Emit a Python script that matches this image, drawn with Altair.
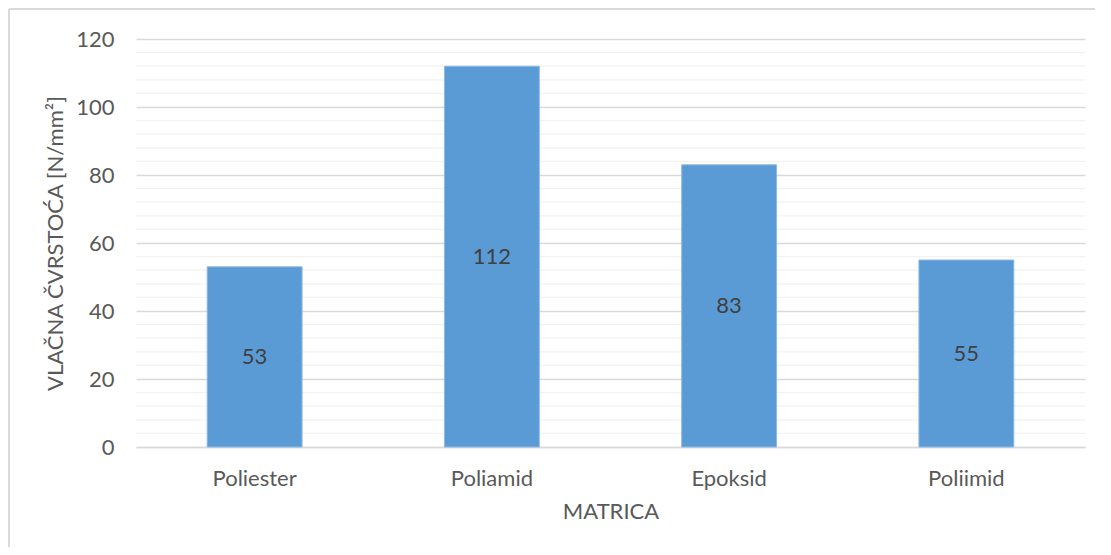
import altair as alt
import pandas as pd

categories = ["Poliester", "Poliamid", "Epoksid", "Poliimid"]
values = [53, 112, 83, 55]
major_ticks = [0, 20, 40, 60, 80, 100, 120]
minor_ticks = [v for v in range(0, 121, 4) if v % 20 != 0]

df = pd.DataFrame({"cat": categories, "val": values})
df["mid"] = df["val"] / 2
minor_df = pd.DataFrame({"m": minor_ticks})

FONT = "Lato"
FS = 22

yscale = alt.Scale(domain=[0, 120], nice=False)
xscale = alt.Scale(paddingInner=0.6, paddingOuter=0.3)

minor = alt.Chart(minor_df).mark_rule(color="#f2f2f2", strokeWidth=1.3).encode(
    y=alt.Y("m:Q", scale=yscale)
)

bars = alt.Chart(df).mark_bar(color="#5b9bd5", stroke="#8fb9e2", strokeWidth=1).encode(
    x=alt.X("cat:N", sort=categories, scale=xscale,
            axis=alt.Axis(title="MATRICA", labelAngle=0, ticks=False,
                          domainColor="#d9d9d9", domainWidth=1.5,
                          labelPadding=21, titlePadding=12,
                          labelFont=FONT, labelFontSize=FS, labelColor="#595959",
                          titleFont=FONT, titleFontSize=FS, titleColor="#595959",
                          titleFontWeight="normal")),
    y=alt.Y("val:Q", scale=yscale,
            axis=alt.Axis(title="VLAČNA ČVRSTOĆA [N/mm²]", values=major_ticks,
                          grid=True, gridColor="#d9d9d9", gridWidth=1.5,
                          ticks=False, domain=False, labelPadding=22,
                          titlePadding=8,
                          labelFont=FONT, labelFontSize=FS, labelColor="#595959",
                          titleFont=FONT, titleFontSize=FS, titleColor="#595959",
                          titleFontWeight="normal")),
)

labels = alt.Chart(df).mark_text(font=FONT, fontSize=FS, color="#404040", baseline="middle").encode(
    x=alt.X("cat:N", sort=categories, scale=xscale),
    y=alt.Y("mid:Q", scale=yscale),
    text=alt.Text("val:Q"),
)

border_left = alt.Chart(df).mark_rule(color="#d9d9d9", strokeWidth=1.5).encode(
    x=alt.value(-127), y=alt.value(-30), y2=alt.value(560)
)
border_top = alt.Chart(df).mark_rule(color="#d9d9d9", strokeWidth=1.5).encode(
    x=alt.value(-127), x2=alt.value(1000), y=alt.value(-30)
)

chart = alt.layer(minor, bars, labels, border_left, border_top).properties(
    width=949, height=408,
    autosize=alt.AutoSizeParams(type="none"),
    padding={"left": 128, "top": 31, "right": 10, "bottom": 100},
).configure_view(stroke=None)

chart.save("out.html", embed_options={"renderer": "svg", "actions": False})
